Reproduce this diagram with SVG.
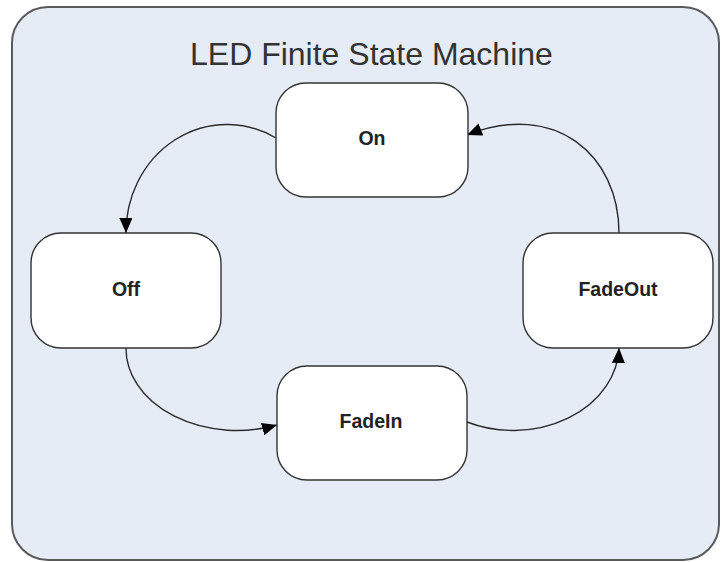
<svg xmlns="http://www.w3.org/2000/svg" width="721" height="562" viewBox="0 0 721 562">
<defs>
<style>
.frame{fill:#e6ecf6;stroke:#5a5a5a;stroke-width:2}
.node rect{fill:#ffffff;stroke:#333333;stroke-width:1.4}
.node text{font-family:"Liberation Sans",Arial,sans-serif;font-weight:bold;font-size:19.5px;fill:#222222;text-anchor:middle}
.title{font-family:"Liberation Sans",Arial,sans-serif;font-size:32px;fill:#333333}
.edge{fill:none;stroke:#2a2a2a;stroke-width:1.4;marker-end:url(#arrow)}
</style>
<marker id="arrow" markerUnits="userSpaceOnUse" markerWidth="16" markerHeight="14" refX="15" refY="6.5" orient="auto">
<path d="M0,0 L15,6.5 L0,13 z" fill="#000000"/>
</marker>
</defs>
<rect x="0" y="0" width="721" height="562" fill="#ffffff"/>
<rect class="frame" x="12" y="7" width="707" height="553" rx="36" ry="36"/>
<text class="title" x="190" y="65">LED Finite State Machine</text>
<g id="connectors">
<path class="edge" d="M276,138 A101,108 0 0 0 126,233"/>
<path class="edge" d="M126,348 A111,82 0 0 0 277,425"/>
<path class="edge" d="M467,422 A106,85 0 0 0 619,348"/>
<path class="edge" d="M619,233 C619,155 555,100 467,135"/>
</g>
<g id="node-on" class="node">
<rect x="276" y="83" width="192" height="114" rx="30" ry="30"/>
<text x="372" y="145">On</text>
</g>
<g id="node-off" class="node">
<rect x="31" y="233" width="190" height="115" rx="30" ry="30"/>
<text x="126" y="296">Off</text>
</g>
<g id="node-fadein" class="node">
<rect x="277" y="366" width="190" height="114" rx="30" ry="30"/>
<text x="371" y="428">FadeIn</text>
</g>
<g id="node-fadeout" class="node">
<rect x="523" y="233" width="190" height="115" rx="30" ry="30"/>
<text x="618" y="296">FadeOut</text>
</g>
</svg>
